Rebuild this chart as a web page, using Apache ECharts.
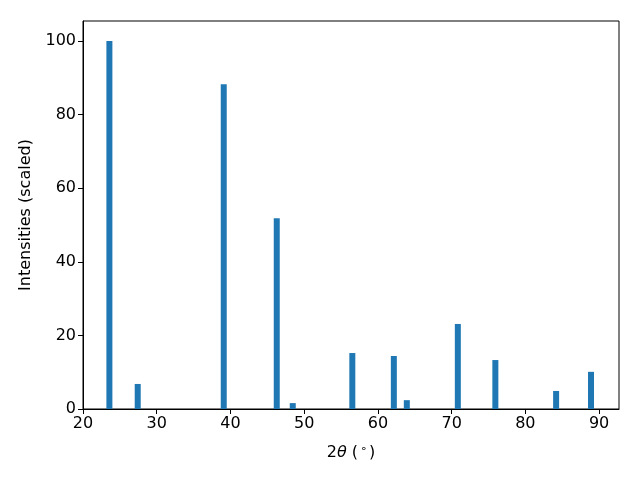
<!DOCTYPE html>
<html>
<head>
<meta charset="utf-8">
<script src="https://cdn.jsdelivr.net/npm/echarts@6/dist/echarts.min.js"></script>
<style>html,body{margin:0;padding:0;background:#fff}#c{width:640px;height:480px}</style>
</head>
<body>
<div id="c"></div>
<script>
const positions = [23.58, 27.42, 39.09, 46.28, 48.45, 56.53, 62.16, 63.92, 70.84, 75.93, 84.17, 88.9];
const intensities = [100, 6.8, 88.2, 51.8, 1.6, 15.2, 14.4, 2.4, 23.1, 13.3, 4.9, 10.1];
const xTicks = [20, 30, 40, 50, 60, 70, 80, 90];
const yTicks = [0, 20, 40, 60, 80, 100];

const chart = echarts.init(document.getElementById('c'), null, {renderer: 'canvas'});
const font = 'DejaVu Sans';
chart.setOption({
  animation: false,
  grid: {left: 83, right: 21, top: 21, bottom: 71, show: true, borderColor: '#000', borderWidth: 1},
  xAxis: {
    type: 'value', min: 20, max: 92.7, interval: 10,
    name: '{a|2}{t|θ}{a| (}{s|∘}{a|)}',
    nameLocation: 'middle', nameGap: 35,
    nameTextStyle: {rich: {
      a: {fontFamily: font, fontSize: 16, color: '#000'},
      t: {fontFamily: font, fontSize: 16, fontStyle: 'italic', color: '#000'},
      s: {fontFamily: font, fontSize: 11, color: '#000', verticalAlign: 'top', padding: [0, 2, 6, 2]}
    }},
    axisLine: {show: true, lineStyle: {color: '#000', width: 1}},
    axisTick: {show: true, length: 5, lineStyle: {color: '#000'}, customValues: xTicks},
    axisLabel: {fontFamily: font, fontSize: 16, color: '#000', margin: 7, customValues: xTicks},
    splitLine: {show: false}
  },
  yAxis: {
    type: 'value', min: 0, max: 105.4, interval: 20,
    name: 'Intensities (scaled)', nameLocation: 'middle', nameGap: 49,
    nameTextStyle: {fontFamily: font, fontSize: 16, color: '#000'},
    axisLine: {show: true, lineStyle: {color: '#000', width: 1}},
    axisTick: {show: true, length: 5, lineStyle: {color: '#000'}, customValues: yTicks},
    axisLabel: {fontFamily: font, fontSize: 16, color: '#000', margin: 7, customValues: yTicks},
    splitLine: {show: false}
  },
  series: [{
    type: 'bar', barWidth: 6,
    itemStyle: {color: '#1f77b4'},
    data: positions.map((p, i) => [p, intensities[i]])
  }]
});
</script>
</body>
</html>
